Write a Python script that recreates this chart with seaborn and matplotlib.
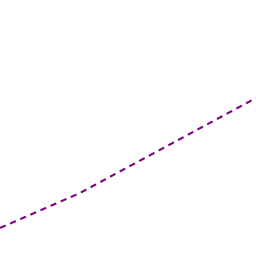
import matplotlib
matplotlib.use("Agg")
import matplotlib.pyplot as plt
import seaborn as sns
import pandas as pd

x_vals = [0, 80, 256]
y_vals = [28, 63, 158]

df = pd.DataFrame({"x": x_vals, "y": y_vals})

fig = plt.figure(figsize=(2.56, 2.56), dpi=100)
ax = fig.add_axes([0, 0, 1, 1])
sns.lineplot(data=df, x="x", y="y", ax=ax, color="#800080", linewidth=1.5)
ax.lines[0].set_dashes((3, 2.3))
ax.set_xlim(0, 256)
ax.set_ylim(0, 256)
ax.axis("off")
fig.savefig("out.png", dpi=100, facecolor="white")
